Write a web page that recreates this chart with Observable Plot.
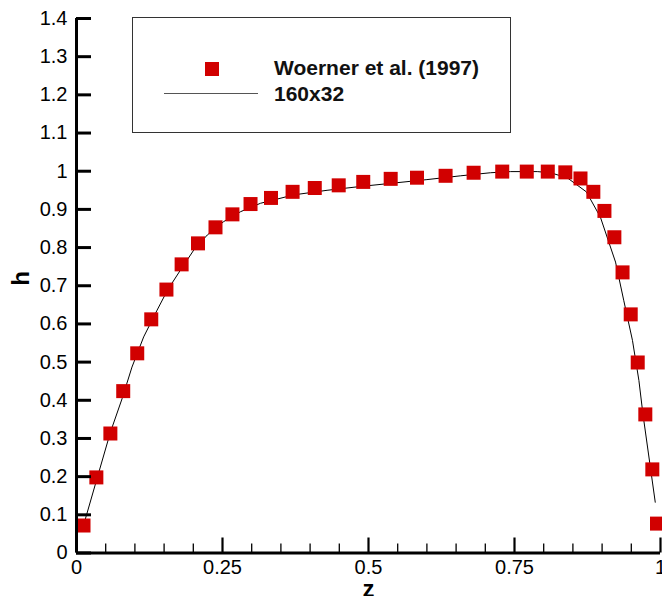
<!DOCTYPE html>
<html>
<head>
<meta charset="utf-8">
<script src="https://cdn.jsdelivr.net/npm/d3@7"></script>
<script src="https://cdn.jsdelivr.net/npm/@observablehq/plot@0.6"></script>
<style>
  html, body { margin: 0; padding: 0; background: #fff; }
  #wrap { position: relative; width: 662px; height: 596px; overflow: hidden; font-family: "Liberation Sans", Arial, sans-serif; }
  #legend { position: absolute; left: 132px; top: 17px; width: 379px; height: 116px; box-sizing: border-box; border: 1px solid #333; background: #fff; }
  #legend .sq { position: absolute; left: 72px; top: 44px; width: 14px; height: 14px; background: #d10000; }
  #legend .ln { position: absolute; left: 31px; top: 75px; width: 94px; height: 1px; background: #555; }
  #legend .tx { position: absolute; left: 141px; font-size: 21px; font-weight: bold; line-height: 21px; white-space: nowrap; color: #111; }
</style>
</head>
<body>
<div id="wrap"></div>
<script>
// Woerner et al. (1997) data points
const woernerZ = [0.012,0.034,0.058,0.080,0.104,0.128,0.154,0.180,0.208,0.238,0.267,0.298,0.333,0.370,0.408,0.449,0.491,0.538,0.583,0.632,0.680,0.729,0.771,0.807,0.837,0.863,0.885,0.904,0.921,0.935,0.949,0.961,0.974,0.986,0.994];
const woernerH = [0.072,0.198,0.313,0.424,0.523,0.612,0.690,0.756,0.811,0.853,0.887,0.914,0.930,0.946,0.956,0.963,0.972,0.980,0.983,0.988,0.996,0.999,0.999,0.999,0.997,0.981,0.946,0.896,0.827,0.735,0.625,0.499,0.363,0.219,0.077];

// 160x32 simulation line
const simZ = [0.011,0.034,0.058,0.078,0.095,0.115,0.138,0.156,0.178,0.201,0.224,0.252,0.281,0.315,0.372,0.429,0.486,0.543,0.600,0.658,0.709,0.743,0.789,0.812,0.841,0.873,0.897,0.923,0.937,0.952,0.963,0.970,0.991];
const simH = [0.067,0.189,0.316,0.404,0.487,0.566,0.636,0.689,0.741,0.794,0.833,0.868,0.894,0.916,0.938,0.950,0.960,0.969,0.978,0.988,0.996,0.999,0.999,0.996,0.982,0.946,0.880,0.762,0.662,0.557,0.452,0.363,0.133];

// Tick values
const xMajorTicks = [0, 0.25, 0.5, 0.75, 1];
const xMinorTicks = [0.05,0.1,0.15,0.2,0.3,0.35,0.4,0.45,0.55,0.6,0.65,0.7,0.8,0.85,0.9,0.95];
const yTicks = [0,0.1,0.2,0.3,0.4,0.5,0.6,0.7,0.8,0.9,1,1.1,1.2,1.3,1.4];

const legendLabels = ["Woerner et al. (1997)", "160x32"];
const xLabel = "z", yLabel = "h";

const W = 662, H = 596, mL = 76, mR = 2, mT = 18, mB = 43.5;
const plotW = W - mL - mR, plotH = H - mT - mB;

const points = woernerZ.map((z, i) => ({z, h: woernerH[i]}));
const sim = simZ.map((z, i) => ({z, h: simH[i]}));
const fmt = d => String(+d.toFixed(2));

const chart = Plot.plot({
  width: W, height: H,
  marginLeft: mL, marginRight: mR, marginTop: mT, marginBottom: mB,
  style: {fontFamily: '"Liberation Sans", Arial, sans-serif', color: "#000", background: "#fff"},
  x: {domain: [0, 1]},
  y: {domain: [0, 1.4]},
  marks: [
    Plot.line(sim, {x: "z", y: "h", stroke: "#000", strokeWidth: 1}),
    Plot.dot(points, {x: "z", y: "h", symbol: "square", r: 7.9, fill: "#d10000", stroke: "none"}),
    // minor x ticks
    Plot.ruleX(xMinorTicks, {x: d => d, insetTop: plotH - 9, stroke: "#000", strokeWidth: 1.3}),
    // major x ticks
    Plot.ruleX(xMajorTicks, {x: d => d, insetTop: plotH - 15, stroke: "#000", strokeWidth: 2.2}),
    // major y ticks
    Plot.ruleY(yTicks, {y: d => d, insetRight: plotW - 15, stroke: "#000", strokeWidth: 3}),
    // axis lines
    Plot.ruleX([0], {stroke: "#000", strokeWidth: 3}),
    Plot.ruleY([0], {stroke: "#000", strokeWidth: 3}),
    Plot.axisX(xMajorTicks, {tickSize: 0, tickPadding: 7, fontSize: 20, tickFormat: fmt, label: null}),
    Plot.axisY(yTicks, {tickSize: 0, tickPadding: 9, fontSize: 20, tickFormat: fmt, label: null}),
    Plot.text([xLabel], {frameAnchor: "bottom", dy: 44, fontSize: 24, fontWeight: "bold", fill: "#000"}),
    Plot.text([yLabel], {frameAnchor: "left", dx: -55, rotate: -90, fontSize: 24, fontWeight: "bold", fill: "#000"})
  ]
});

const wrap = document.getElementById("wrap");
wrap.appendChild(chart);

const legend = document.createElement("div");
legend.id = "legend";
legend.innerHTML = `<div class="sq"></div><div class="ln"></div>
  <div class="tx" style="top:39px">${legendLabels[0]}</div>
  <div class="tx" style="top:64.5px">${legendLabels[1]}</div>`;
wrap.appendChild(legend);
</script>
</body>
</html>
